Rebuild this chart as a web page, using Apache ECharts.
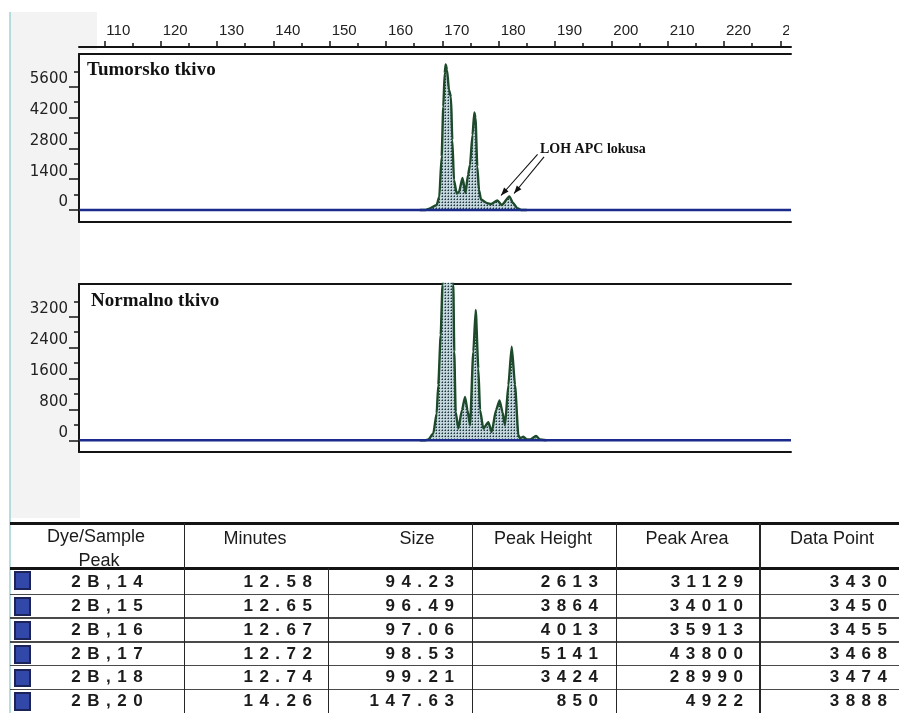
<!DOCTYPE html>
<html><head><meta charset="utf-8">
<script src="https://cdn.jsdelivr.net/npm/echarts@6/dist/echarts.min.js"></script>
<style>
html,body{margin:0;padding:0;background:#fff;}
#wrap{position:relative;width:899px;height:713px;overflow:hidden;background:#fff;}
#chart{position:absolute;left:0;top:0;width:899px;height:713px;}
#overlay{position:absolute;left:0;top:0;width:899px;height:713px;pointer-events:none;}
.ln{position:absolute;background:#1a1a1a;}
.tx{position:absolute;white-space:nowrap;font-family:"Liberation Sans",Arial,sans-serif;color:#1b1b1b;line-height:1;}
.val{font-weight:bold;font-size:17px;letter-spacing:6.5px;}
.hd{font-size:18px;}
.sq{position:absolute;box-sizing:border-box;border:2px solid #1c2358;background:#3148a8;}
</style></head><body>
<div id="wrap"><div id="chart"></div><div id="overlay"></div></div>
<script>
// ---------- data ----------
const xMajor = [110,120,130,140,150,160,170,180,190,200,210,220,230];
const xMinor = [115,125,135,145,155,165,175,185,195,205,215,225];
const xLabels = ['110','120','130','140','150','160','170','180','190','200','210','220','230'];

const yTopMajor = [0,1400,2800,4200,5600];
const yTopMinor = [700,2100,3500,4900,6300];
const yBotMajor = [0,800,1600,2400,3200];
const yBotMinor = [400,1200,2000,2800,3600];

// Tumorsko tkivo trace (size, height)
const tumorSize = [166.0,167.0,167.68,169.0,169.46,169.88,170.17,170.42,170.60,170.83,171.18,171.54,171.77,172.07,172.55,172.96,173.58,174.11,174.56,174.91,175.36,175.68,175.89,176.21,176.51,176.87,177.99,178.65,179.77,180.55,181.90,182.55,183.32,184.0,185.0];
const tumorHeight = [0,0,60,227,605,2423,4695,6213,6613,6363,5454,5136,3182,1364,750,818,1454,773,1591,2045,3409,4431,4182,1968,909,477,305,273,432,227,614,318,77,0,0];

// Normalno tkivo trace
const normalSize = [166.0,167.0,167.50,168.39,168.99,169.28,169.71,170.03,170.92,171.95,172.12,172.37,172.83,173.49,174.03,174.47,174.92,175.50,175.93,176.39,176.70,177.28,178.17,178.77,179.53,180.16,180.69,181.13,181.72,182.32,182.91,183.50,183.80,184.39,184.99,185.58,186.64,187.35,188.5];
const normalHeight = [0,0,18,174,693,1428,2727,4025,6200,4025,2293,735,304,779,1124,779,390,2293,3376,1862,779,304,467,216,779,1031,727,390,1428,2423,1428,130,52,91,18,18,109,18,0];

// LOH arrows (data coordinates of top panel)
const lohArrows = [[[186.91,2523],[180.42,659]],[[188.06,2409],[182.73,750]]];

// table
const tableHeaders = ['Dye/Sample','Minutes','Size','Peak Height','Peak Area','Data Point'];
const dyeSample = ['2B,14','2B,15','2B,16','2B,17','2B,18','2B,20'];
const minutes = ['12.58','12.65','12.67','12.72','12.74','14.26'];
const sizes = ['94.23','96.49','97.06','98.53','99.21','147.63'];
const peakHeight = ['2613','3864','4013','5141','3424','850'];
const peakArea = ['31129','34010','35913','43800','28990','4922'];
const dataPoint = ['3430','3450','3455','3468','3474','3888'];

// ---------- layout ----------
const X_MIN = 105.5, X_MAX = 231.9;
const TOP_MIN = -545, TOP_MAX = 7086;
const BOT_MIN = -304, BOT_MAX = 4049;
const INK = '#141414';

function pattern(){
  const c = document.createElement('canvas'); c.width = 3; c.height = 3;
  const g = c.getContext('2d');
  g.fillStyle = '#c4d4db'; g.fillRect(0,0,3,3);
  g.fillStyle = '#1c343b'; g.fillRect(1,1,1,1);
  g.fillStyle = '#6c878f'; g.fillRect(0,1,1,1); g.fillRect(1,0,1,1);
  return c;
}
const pat = {image: pattern(), repeat: 'repeat'};

function xAx(gridIndex, extra){
  return Object.assign({type:'value', gridIndex, min:X_MIN, max:X_MAX, splitLine:{show:false},
    axisLabel:{show:false}, axisTick:{show:false}, axisLine:{show:false, onZero:false}}, extra);
}
function yAx(gridIndex, min, max, extra){
  return Object.assign({type:'value', gridIndex, min, max, position:'left', splitLine:{show:false},
    axisLabel:{show:false}, axisTick:{show:false}, axisLine:{show:false, onZero:false}}, extra);
}
const boxLine = {show:true, onZero:false, lineStyle:{color:INK, width:2}};
const tickStyle = {color:INK, width:1.5};
function yLabel(){
  return {show:true, verticalAlign:'bottom', margin:11, fontFamily:'DejaVu Sans', fontSize:15, color:'#222',
    formatter: v => String(v)};
}

const zip = (a,b) => a.map((v,i)=>[v,b[i]]);

const chart = echarts.init(document.getElementById('chart'), null, {renderer:'canvas'});
const baseGraphics = [
  {type:'rect', z:-10, shape:{x:10, y:12, width:70, height:506}, style:{fill:'#f3f3f3'}},
  {type:'rect', z:-10, shape:{x:80, y:12, width:17, height:38}, style:{fill:'#f3f3f3'}},
  {type:'line', z:-5, shape:{x1:10, y1:12, x2:10, y2:713}, style:{stroke:'#9fd3d3', lineWidth:1.5}},
  {type:'text', z:10, x:87, y:70.5, style:{text:'Tumorsko tkivo', fill:'#111', font:'bold 19px "Liberation Serif"', verticalAlign:'middle', align:'left'}},
  {type:'text', z:10, x:91, y:301.5, style:{text:'Normalno tkivo', fill:'#111', font:'bold 19px "Liberation Serif"', verticalAlign:'middle', align:'left'}},
  {type:'text', z:10, x:540, y:149.5, style:{text:'LOH APC lokusa', fill:'#111', font:'bold 14px "Liberation Serif"', verticalAlign:'middle', align:'left'}}
];
chart.setOption({
  animation:false,
  backgroundColor:'transparent',
  grid:[{left:79, top:54, width:712, height:168}, {left:79, top:284, width:712, height:168}],
  xAxis:[
    xAx(0,{position:'top', offset:7, axisLine:boxLine,
      axisTick:{show:true, customValues:xMajor, length:6, lineStyle:tickStyle},
      axisLabel:{show:true, customValues:xMajor, formatter:v=>xLabels[xMajor.indexOf(v)], align:'left', margin:9,
        fontFamily:'Liberation Sans', fontSize:15, color:'#222', padding:[0,0,0,2]}}),
    xAx(0,{position:'top', offset:7, axisTick:{show:true, customValues:xMinor, length:4, lineStyle:tickStyle}}),
    xAx(0,{position:'top', offset:0, axisLine:boxLine}),
    xAx(0,{position:'bottom', offset:0, axisLine:boxLine}),
    xAx(1,{position:'top', offset:0, axisLine:boxLine}),
    xAx(1,{position:'bottom', offset:0, axisLine:boxLine})
  ],
  yAxis:[
    yAx(0,TOP_MIN,TOP_MAX,{axisLine:boxLine, axisTick:{show:true, customValues:yTopMajor, length:10, lineStyle:tickStyle},
      axisLabel:Object.assign(yLabel(),{customValues:yTopMajor})}),
    yAx(0,TOP_MIN,TOP_MAX,{axisTick:{show:true, customValues:yTopMinor, length:5, lineStyle:tickStyle}}),
    yAx(1,BOT_MIN,BOT_MAX,{axisLine:boxLine, axisTick:{show:true, customValues:yBotMajor, length:10, lineStyle:tickStyle},
      axisLabel:Object.assign(yLabel(),{customValues:yBotMajor})}),
    yAx(1,BOT_MIN,BOT_MAX,{axisTick:{show:true, customValues:yBotMinor, length:5, lineStyle:tickStyle}})
  ],
  series:[
    {type:'line', name:'Tumorsko tkivo', xAxisIndex:0, yAxisIndex:0, data:zip(tumorSize,tumorHeight),
      showSymbol:false, smooth:0.2, smoothMonotone:'x', lineStyle:{color:'#1d4a2b', width:2.4},
      areaStyle:{color:pat, opacity:1}, z:2,
      markLine:{silent:true, symbol:['none','none'], animation:false,
        lineStyle:{color:'#111', width:1.1, type:'solid'}, label:{show:false},
        data:lohArrows.map(a=>[{coord:a[0]},{coord:a[1]}])}},
    {type:'line', xAxisIndex:0, yAxisIndex:0, data:[[X_MIN,0],[X_MAX,0]], showSymbol:false,
      lineStyle:{color:'#1b2b8c', width:2.4}, z:3},
    {type:'line', name:'Normalno tkivo', xAxisIndex:4, yAxisIndex:2, data:zip(normalSize,normalHeight),
      showSymbol:false, smooth:0.2, smoothMonotone:'x', lineStyle:{color:'#1d4a2b', width:2.4},
      areaStyle:{color:pat, opacity:1}, z:2},
    {type:'line', xAxisIndex:4, yAxisIndex:2, data:[[X_MIN,0],[X_MAX,0]], showSymbol:false,
      lineStyle:{color:'#1b2b8c', width:2.4}, z:3}
  ],
  graphic: baseGraphics
});

// arrowheads at the end of each LOH arrow, placed through the chart's own scales
const heads = lohArrows.map(a=>{
  const p0 = chart.convertToPixel({xAxisIndex:0, yAxisIndex:0}, a[0]);
  const p1 = chart.convertToPixel({xAxisIndex:0, yAxisIndex:0}, a[1]);
  const dx=p1[0]-p0[0], dy=p1[1]-p0[1], L=Math.hypot(dx,dy), ux=dx/L, uy=dy/L;
  const len=8, w=3;
  const bx=p1[0]-ux*len, by=p1[1]-uy*len;
  return {type:'polygon', z:20, shape:{points:[[p1[0],p1[1]],[bx-uy*w,by+ux*w],[bx+uy*w,by-ux*w]]}, style:{fill:'#111'}};
});
chart.setOption({graphic: baseGraphics.concat(heads)});

// ---------- table (HTML overlay) ----------
const ov = document.getElementById('overlay');
function line(x,y,w,h,color){ const d=document.createElement('div'); d.className='ln';
  d.style.left=x+'px'; d.style.top=y+'px'; d.style.width=w+'px'; d.style.height=h+'px';
  if(color) d.style.background=color; ov.appendChild(d); }
function text(s,x,y,anchor,cls){ const d=document.createElement('div'); d.className='tx '+cls; d.textContent=s;
  d.style.left=x+'px'; d.style.top=y+'px';
  const tx = anchor==='center'?'-50%':(anchor==='right'?'-100%':'0');
  d.style.transform='translate('+tx+',-50%)'; ov.appendChild(d); }

// white mask where the scan is cut on the right of the top scale
const mask=document.createElement('div'); mask.style.cssText='position:absolute;left:789px;top:0;width:110px;height:46px;background:#fff;';
ov.appendChild(mask);

const T0=523.3, H1=568.3, rowH=23.75, BOTTOM=713;
line(10,T0-1.25,889,2.5,INK);
line(10,H1-1.25,889,2.5,INK);
for(let i=0;i<5;i++) line(10,594.3+i*rowH-0.75,889,1.5,'#4a4a4a');
[184.3,472.7,616.7,760].forEach(x=>line(x-0.75,T0,1.5,BOTTOM-T0,'#262626'));
line(328.3-0.75,H1,1.5,BOTTOM-H1,'#262626');

text(tableHeaders[0],96,536,'center','hd');
text('Peak',99,559.5,'center','hd');
const hdX=[255,417,543,687,832];
for(let i=1;i<6;i++) text(tableHeaders[i],hdX[i-1],538,'center','hd');

const ls=6.5;
for(let i=0;i<6;i++){
  const yc=581.3+i*rowH;
  const top = (i===0?H1:594.3+(i-1)*rowH);
  const sq=document.createElement('div'); sq.className='sq';
  sq.style.left='14px'; sq.style.top=(top+3)+'px'; sq.style.width='17px'; sq.style.height=(rowH-5)+'px';
  ov.appendChild(sq);
  text(dyeSample[i],107+ls/2,yc,'center','val');
  text(minutes[i],312+ls,yc,'right','val');
  text(sizes[i],454+ls,yc,'right','val');
  text(peakHeight[i],598+ls,yc,'right','val');
  text(peakArea[i],743+ls,yc,'right','val');
  text(dataPoint[i],887+ls,yc,'right','val');
}
</script>
</body></html>
